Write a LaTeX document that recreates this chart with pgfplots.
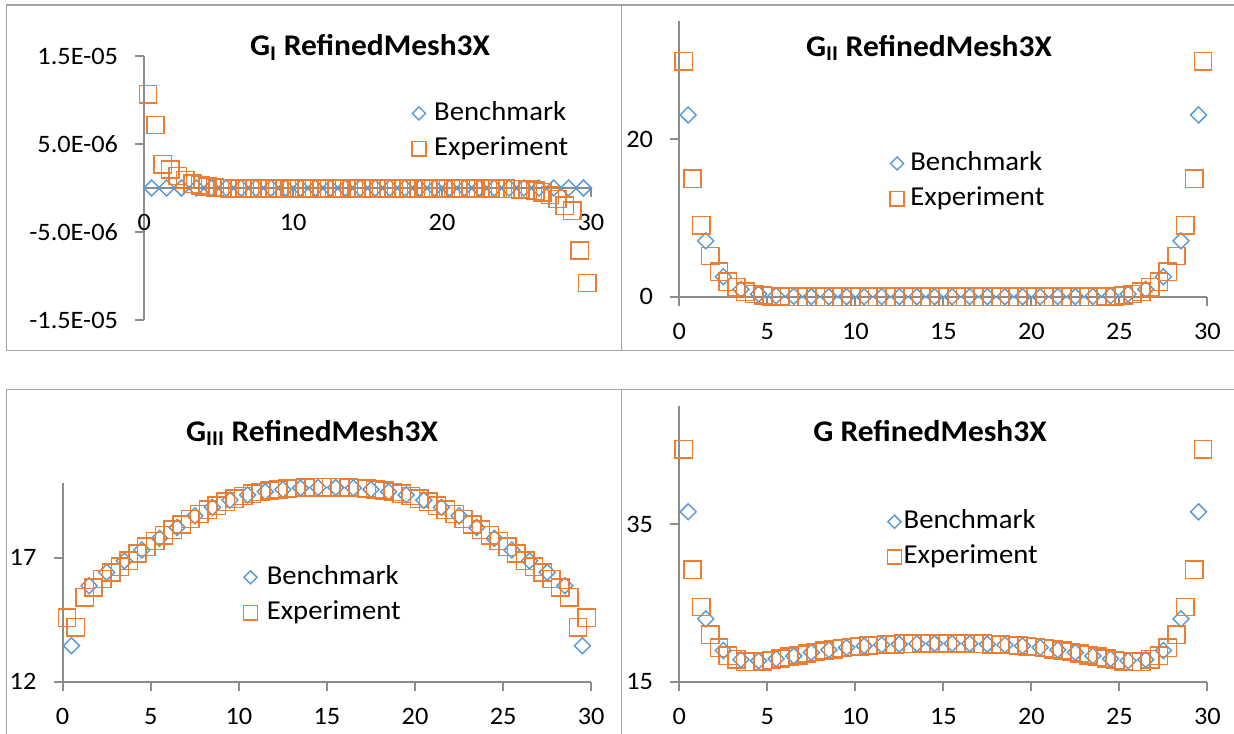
\documentclass[border=0pt]{standalone}
\usepackage{fontspec}
\setmainfont{Carlito}[FakeStretch=1.05]
\usepackage{pgfplots}
\pgfplotsset{compat=1.18}
\usepackage{pgfplotstable}

\definecolor{bm}{HTML}{5B9BD5}
\definecolor{ex}{HTML}{ED7D31}
\definecolor{axgray}{HTML}{8C8C8C}
\definecolor{bordergray}{HTML}{A3A3A3}

\newcommand\ticklabelfont{\fontsize{18.8pt}{20pt}\selectfont}
\newcommand\legendfont{\fontsize{20.5pt}{22pt}\selectfont}
\newcommand\titlefont{\fontsize{22.5pt}{24pt}\selectfont\bfseries}

% Benchmark: x, G_I, G_II, G_III, G
\pgfplotstableread{
x    gI  gII   gIII  g
0.5  0   23.1  13.45 36.55
1.5  0   7.1   15.87 22.97
2.5  0   2.54  16.41 18.95
3.5  0   0.93  16.87 17.80
4.5  0   0.34  17.31 17.65
5.5  0   0.12  17.78 17.90
6.5  0   0.04  18.22 18.26
7.5  0   0.015 18.69 18.71
8.5  0   0.005 19.03 19.04
9.5  0   0.005 19.32 19.33
10.5 0   0.005 19.53 19.54
11.5 0   0.005 19.66 19.67
12.5 0   0.005 19.75 19.76
13.5 0   0.005 19.81 19.82
14.5 0   0.005 19.83 19.84
15.5 0   0.005 19.83 19.84
16.5 0   0.005 19.81 19.82
17.5 0   0.005 19.75 19.76
18.5 0   0.005 19.66 19.67
19.5 0   0.005 19.53 19.54
20.5 0   0.005 19.32 19.33
21.5 0   0.005 19.03 19.04
22.5 0   0.015 18.69 18.71
23.5 0   0.04  18.22 18.26
24.5 0   0.12  17.78 17.90
25.5 0   0.34  17.31 17.65
26.5 0   0.93  16.87 17.80
27.5 0   2.54  16.41 18.95
28.5 0   7.1   15.87 22.97
29.5 0   23.1  13.45 36.55
}\bench

% Experiment: x, G_I, G_II, G_III, G
\pgfplotstableread{
x     gI        gII   gIII  g
0.25  1.065e-5  29.9  14.58 44.48
0.75  7.16e-6   15.0  14.19 29.19
1.25  2.7e-6    9.07  15.40 24.47
1.75  2.1e-6    5.17  15.80 20.97
2.25  1.36e-6   3.18  16.14 19.32
2.75  9.0e-7    1.90  16.40 18.30
3.25  5.0e-7    1.19  16.64 17.83
3.75  3.0e-7    0.64  16.88 17.52
4.25  1.5e-7    0.34  17.17 17.51
4.75  6e-8      0.15  17.44 17.59
5.25  0         0.07  17.67 17.74
5.75  -3e-8     0.03  17.91 17.94
6.25  -5e-8     0.015 18.13 18.15
6.75  -5e-8     0.008 18.34 18.35
7.25  -5e-8     0.005 18.56 18.57
7.75  -5e-8     0.005 18.76 18.77
8.25  -5e-8     0.005 18.94 18.95
8.75  -5e-8     0.005 19.10 19.11
9.25  -5e-8     0.005 19.25 19.26
9.75  -5e-8     0.005 19.38 19.39
10.25 -5e-8     0.005 19.49 19.50
10.75 -5e-8     0.005 19.58 19.59
11.25 -5e-8     0.005 19.65 19.66
11.75 -5e-8     0.005 19.71 19.72
12.25 -5e-8     0.005 19.75 19.76
12.75 -5e-8     0.005 19.79 19.80
13.25 -5e-8     0.005 19.81 19.82
13.75 -5e-8     0.005 19.83 19.84
14.25 -5e-8     0.005 19.84 19.85
14.75 -5e-8     0.005 19.84 19.85
15.25 -5e-8     0.005 19.84 19.85
15.75 -5e-8     0.005 19.84 19.85
16.25 -5e-8     0.005 19.83 19.84
16.75 -5e-8     0.005 19.81 19.82
17.25 -5e-8     0.005 19.79 19.80
17.75 -5e-8     0.005 19.75 19.76
18.25 -5e-8     0.005 19.71 19.72
18.75 -5e-8     0.005 19.65 19.66
19.25 -5e-8     0.005 19.58 19.59
19.75 -5e-8     0.005 19.49 19.50
20.25 -5e-8     0.005 19.38 19.39
20.75 -5e-8     0.005 19.25 19.26
21.25 -5e-8     0.005 19.10 19.11
21.75 -5e-8     0.005 18.94 18.95
22.25 -5e-8     0.005 18.76 18.77
22.75 -5e-8     0.005 18.56 18.57
23.25 -6e-8     0.008 18.34 18.35
23.75 -8e-8     0.015 18.13 18.15
24.25 -1.0e-7   0.03  17.91 17.94
24.75 -1.2e-7   0.07  17.67 17.74
25.25 -1.5e-7   0.15  17.44 17.59
25.75 -2e-7     0.34  17.17 17.51
26.25 -3e-7     0.64  16.88 17.52
26.75 -5e-7     1.19  16.64 17.83
27.25 -8e-7     1.90  16.40 18.30
27.75 -1.25e-6  3.18  16.14 19.32
28.25 -2.0e-6   5.17  15.80 20.97
28.75 -2.6e-6   9.07  15.40 24.47
29.25 -7.1e-6   15.0  14.19 29.19
29.75 -1.08e-5  29.9  14.58 44.48
}\expt

\pgfplotsset{
  xlpanel/.style={
    scale only axis, clip=false,
    axis line style={draw=axgray, line width=1.3pt, -},
    tick style={draw=axgray, line width=1.3pt},
    major tick length=6.75pt,
    tick align=outside,
    tick label style={font=\ticklabelfont, inner sep=0pt},
    xticklabel style={anchor=north},
    yticklabel style={anchor=east},
    xticklabel shift=13pt,
    yticklabel shift=12.75pt,
    /pgf/number format/assume math mode=true,
    legend cell align=left,
    legend image code/.code={\draw[##1,/tikz/every mark/.append style={scale=0.82}] plot coordinates {(0pt,0pt)};},
    legend style={draw=none, fill=none, inner sep=0pt, outer sep=0pt,
      anchor=north west, font=\legendfont, row sep=6.5pt,
      nodes={inner sep=0pt, text height=15pt, text depth=5pt}},
  },
  bmk/.style={only marks, mark=square, mark size=4.24pt,
    mark options={rotate=45, draw=bm, line width=1.1pt, fill=none}, draw=bm},
  exm/.style={only marks, mark=square, mark size=6.5pt,
    mark options={draw=ex, line width=1.1pt, fill=none}, draw=ex},
}

\begin{document}
\begin{tikzpicture}
\path[use as bounding box] (0,0) rectangle (925.5pt,549.75pt);
% panel borders
\draw[bordergray, line width=1.1pt] (5pt,286.7pt) rectangle (940pt,546pt);
\draw[bordergray, line width=1.1pt] (466.3pt,286.7pt) -- (466.3pt,546pt);
\draw[bordergray, line width=1.1pt] (5pt,-10pt) -- (5pt,257.8pt) -- (940pt,257.8pt);
\draw[bordergray, line width=1.1pt] (466.3pt,-10pt) -- (466.3pt,257.8pt);

% ---- G_I
\begin{axis}[axis x line=middle, axis y line=left, xlpanel,
  at={(108.2pt,309.75pt)}, anchor=south west, width=335pt, height=198pt,
  xmin=0, xmax=30, ymin=-1.5e-5, ymax=1.5e-5,
  xtick={0.01,10,20,30}, xticklabels={0,10,20,30},
  ytick={-1.5e-5,-5e-6,5e-6,1.5e-5},
  yticklabels={-1.5E-05,-5.0E-06,5.0E-06,1.5E-05},
  scaled y ticks=false,
  legend style={at={(0.599,0.833)}, /tikz/every odd column/.append style={column sep=6.1pt}},
]
\addplot[bmk] table[x=x,y=gI] {\bench};
\addplot[exm] table[x=x,y=gI] {\expt};
\legend{Benchmark,Experiment}
\end{axis}

% ---- G_II
\begin{axis}[axis lines=left, xlpanel,
  at={(509.5pt,327.2pt)}, anchor=south west, width=396pt, height=206.6pt,
  xmin=0, xmax=30, ymin=0, ymax=35,
  xtick={0,5,...,30}, ytick={0,20},
  legend style={at={(0.399,0.532)}, /tikz/every odd column/.append style={column sep=4.6pt}},
]
\addplot[bmk] table[x=x,y=gII] {\bench};
\addplot[exm] table[x=x,y=gII] {\expt};
\legend{Benchmark,Experiment}
\end{axis}

% ---- G_III
\begin{axis}[axis lines=left, xlpanel,
  at={(47.0pt,38.5pt)}, anchor=south west, width=396.4pt, height=148.8pt,
  xmin=0, xmax=30, ymin=12, ymax=20,
  xtick={0,5,...,30}, ytick={12,17},
  legend style={at={(0.342,0.593)}, /tikz/every odd column/.append style={column sep=6.85pt}},
]
\addplot[bmk] table[x=x,y=gIII] {\bench};
\addplot[exm] table[x=x,y=gIII] {\expt};
\legend{Benchmark,Experiment}
\end{axis}

% ---- G
\begin{axis}[axis lines=left, xlpanel,
  at={(509.5pt,38.5pt)}, anchor=south west, width=396pt, height=206.9pt,
  xmin=0, xmax=30, ymin=15, ymax=50,
  xtick={0,5,...,30}, ytick={15,35},
  legend style={at={(0.394,0.628)}, /tikz/every odd column/.append style={column sep=1.6pt}},
]
\addplot[bmk] table[x=x,y=g] {\bench};
\addplot[exm] table[x=x,y=g] {\expt};
\legend{Benchmark,Experiment}
\end{axis}

% titles
\node[anchor=base, font=\titlefont] at (277.5pt,507.75pt) {G\textsubscript{I} RefinedMesh3X};
\node[anchor=base, font=\titlefont] at (696.75pt,507.2pt) {G\textsubscript{II} RefinedMesh3X};
\node[anchor=base, font=\titlefont] at (234pt,219pt) {G\textsubscript{III} RefinedMesh3X};
\node[anchor=base, font=\titlefont] at (697.5pt,219pt) {G RefinedMesh3X};
\end{tikzpicture}
\end{document}
